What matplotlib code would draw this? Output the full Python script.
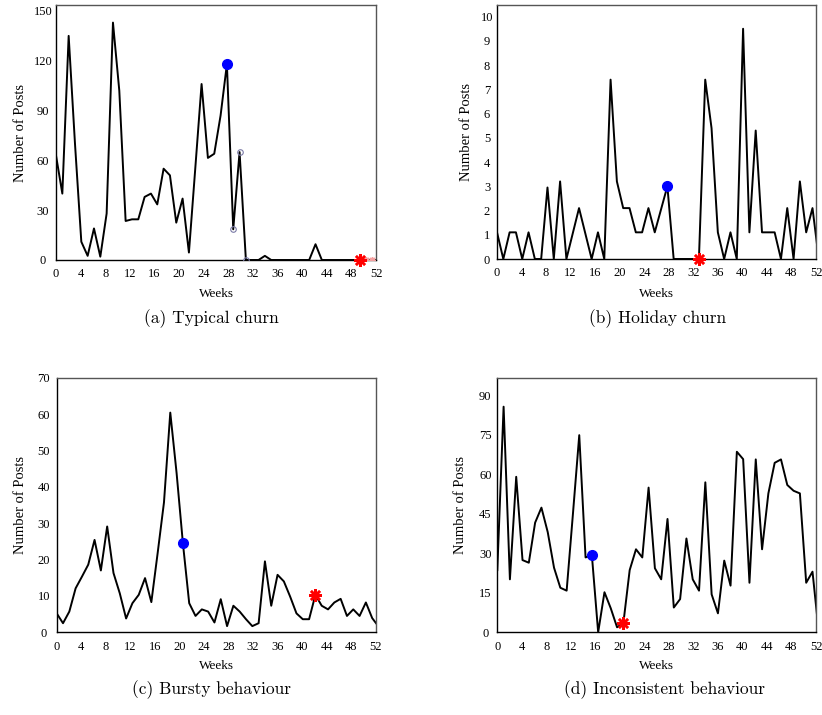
import numpy as np
import matplotlib
matplotlib.use("Agg")
import matplotlib.pyplot as plt

# Недельная активность четырёх пользователей (число постов)
# отсчёты идут через 7.2 дня, поэтому по оси недель шаг чуть больше 1
sample_days = 7.2

a_posts = [63, 40, 135, 70, 11, 2.5, 19, 2, 28, 143,
           102, 23.5, 24.5, 24.5, 38, 40, 33.5, 55, 51, 22.5,
           37, 4.5, 55, 106, 61.5, 64, 87, 118, 18.5, 65,
           0, 0, 0, 2.5, 0, 0, 0, 0, 0, 0,
           0, 9.5, 0, 0, 0, 0, 0, 0, 0, 0,
           0, 0]
b_posts = [1.1, 0, 1.1, 1.1, 0, 1.1, 0, 0, 2.95, 0,
           3.2, 0, 1.05, 2.1, 1.05, 0, 1.1, 0, 7.4, 3.2,
           2.1, 2.1, 1.1, 1.1, 2.1, 1.1, 2.05, 3.0, 0, 0,
           0, 0, 0, 7.4, 5.4, 1.1, 0, 1.1, 0, 9.5,
           1.1, 5.3, 1.1, 1.1, 1.1, 0, 2.1, 0, 3.2, 1.1,
           2.1, 0]
c_posts = [5.2, 2.5, 5.7, 12.1, 15.3, 18.6, 25.4, 17.0, 29.1, 16.3,
           10.7, 3.8, 8.0, 10.3, 14.9, 8.3, 21.8, 35.7, 60.4, 43.8,
           24.5, 8.0, 4.5, 6.3, 5.7, 2.7, 9.1, 1.7, 7.3, 5.7,
           3.6, 1.7, 2.5, 19.5, 7.3, 15.8, 14.0, 9.8, 5.2, 3.6,
           3.6, 10.3, 7.3, 6.3, 8.2, 9.2, 4.5, 6.3, 4.5, 8.2,
           3.9, 1.6]
d_posts = [23.6, 85.6, 20.1, 59.0, 27.4, 26.4, 41.6, 47.3, 38, 24.5,
           16.9, 15.8, 45, 74.8, 28.4, 29.3, 0, 15.2, 9.1, 1.9,
           3.5, 23.6, 31.5, 28.4, 54.9, 24.3, 20.1, 43.0, 9.4, 12.6,
           35.6, 20.1, 15.8, 56.9, 14.4, 7.2, 27.2, 17.7, 68.5, 65.7,
           18.8, 65.6, 31.5, 52.7, 64.3, 65.6, 55.9, 53.7, 52.7, 18.8,
           23.0, 0]

captions = ["(a) Typical churn", "(b) Holiday churn",
            "(c) Bursty behaviour", "(d) Inconsistent behaviour"]
series = [a_posts, b_posts, c_posts, d_posts]
blue_idx = [27, 27, 20, 15]      # синяя точка
star_idx = [48, 32, 41, 20]      # красная звёздочка
circle_idx = [28, 29, 30]        # полые кружки только на (a)
pink_idx = [49, 50]              # бледные звёздочки на (a)
y_ticks = [np.arange(0, 151, 30), np.arange(0, 11, 1),
           np.arange(0, 71, 10), np.arange(0, 91, 15)]
y_tops = [153.6, 10.48, 70, 96.6]
x_ticks = np.arange(0, 53, 4)

W, H = 822, 715
# положения осей в пикселях: left, top, right, bottom
boxes = [(56, 5, 376, 260), (497, 5, 816, 259),
         (56.7, 377.7, 375.7, 632.3), (497.3, 377.7, 816, 632.3)]
ylab_x = [20, 466.7, 20, 460]
ytick_pad = [13, 10, 13, 12]
weeks_y = [294, 294, 666, 666]
cap_y = [319, 319, 690, 690]
cap_x = [211, 658, 211, 665]

serif = ['Liberation Serif', 'DejaVu Serif']
fig = plt.figure(figsize=(W / 100, H / 100), dpi=100)

asterisk = (8, 2, 0)
for k in range(4):
    l, t, r, b = boxes[k]
    ax = fig.add_axes([l / W, (H - b) / H, (r - l) / W, (b - t) / H])
    vals = np.array(series[k], dtype=float)
    weeks = np.arange(len(vals)) * sample_days / 7
    ax.plot(weeks, vals, color='black', lw=1.4, zorder=2)
    if k == 0:
        ax.plot(weeks[circle_idx], vals[circle_idx], 'o', ms=4, mfc='none',
                mec='#7a7aa6', mew=0.8, zorder=3)
        ax.plot(weeks[pink_idx], vals[pink_idx], marker=asterisk, ls='none',
                ms=5, mec='#f4a0a0', mew=1.0, zorder=3)
    ax.plot(weeks[blue_idx[k]], vals[blue_idx[k]], 'o', ms=7, color='#0000ff',
            zorder=4)
    ax.plot(weeks[star_idx[k]], vals[star_idx[k]], marker=asterisk, ls='none',
            ms=9, mec='#ff0000', mew=1.8, zorder=4, clip_on=False)

    ax.set_xlim(0, 52)
    ax.set_ylim(0, y_tops[k])
    ax.set_xticks(x_ticks)
    ax.set_yticks(y_ticks[k])
    ax.tick_params(length=0, labelsize=9)
    ax.tick_params(axis='x', pad=6)
    ax.tick_params(axis='y', pad=ytick_pad[k] * 0.72)
    for lbl in ax.get_xticklabels() + ax.get_yticklabels():
        lbl.set_family(serif)
    for lbl in ax.get_yticklabels():
        lbl.set_ha('center')
    for side in ['left', 'bottom']:
        ax.spines[side].set_color('black')
        ax.spines[side].set_linewidth(1.0)
    for side in ['top', 'right']:
        ax.spines[side].set_color('#555555')
        ax.spines[side].set_linewidth(1.0)

    fig.text(ylab_x[k] / W, 1 - (t + b) / 2 / H, 'Number of Posts',
             rotation=90, ha='center', va='center', fontsize=10.5, family=serif)
    fig.text((l + r) / 2 / W, 1 - weeks_y[k] / H, 'Weeks',
             ha='center', va='center', fontsize=9.5, family=serif)
    fig.text(cap_x[k] / W, 1 - cap_y[k] / H, captions[k],
             ha='center', va='center', fontsize=12.5, family='cmr10')

fig.savefig('out.png', dpi=100)
